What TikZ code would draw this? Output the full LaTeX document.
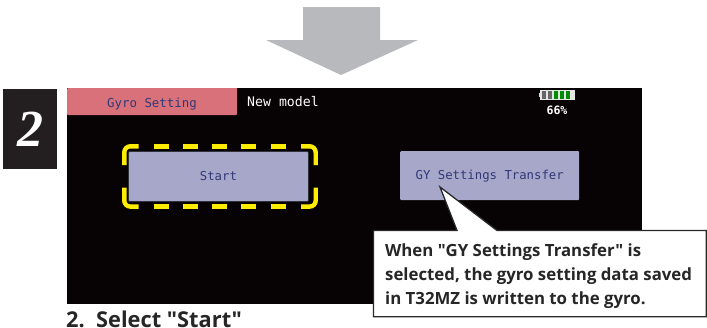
\documentclass[tikz,border=0pt]{standalone}
\usepackage{fontspec}
\newfontfamily\boldfam{Open Sans}
\newfontfamily\screenfont{DejaVu Sans Mono}
\newfontfamily\numfont{Liberation Serif}
\definecolor{arrowgrey}{RGB}{184,185,188}
\definecolor{tabpink}{RGB}{216,113,121}
\definecolor{btnblue}{RGB}{167,167,201}
\definecolor{inkblue}{RGB}{48,56,120}
\definecolor{scrblack}{RGB}{7,2,3}
\definecolor{numblack}{RGB}{35,31,32}
\definecolor{dashyellow}{RGB}{255,237,0}
\definecolor{capline}{RGB}{40,40,40}
\tikzset{
  screenbtn/.style={fill=btnblue,rounded corners=1pt,inner sep=0pt,text=inkblue,font=\screenfont\fontsize{12.3}{14}\selectfont},
  screentxt/.style={inner sep=0pt,font=\screenfont\fontsize{13.2}{14}\selectfont},
  yellowdash/.style={draw=dashyellow,line width=4.4pt},
  boldtxt/.style={inner sep=0pt,anchor=base west,text=black!85,font=\boldfam\bfseries\fontsize{16.8}{21}\selectfont},
  batcell/.style={inner sep=0pt,minimum width=4.6pt,minimum height=8pt}
}
\begin{document}
\begin{tikzpicture}[x=1pt,y=-1pt]
\useasboundingbox (0,0) rectangle (707,327);
\clip (0,0) rectangle (707,327);
% big arrow
\fill[arrowgrey] (303,7) -- (380,7) -- (380,40) -- (418,40) -- (341,75) -- (266,40) -- (303,40) -- cycle;
% step number
\node[fill=numblack,minimum width=54pt,minimum height=80pt,inner sep=0pt,anchor=north west] (num) at (3,89) {};
\node[text=white,inner sep=0pt,font=\numfont\bfseries\itshape\fontsize{52}{52}\selectfont] (numt) at (30,129) {2};
% screen
\fill[scrblack] (67,88) rectangle (642,304);
\fill[tabpink] (67,88) -- (237,88) -- (237,114) [rounded corners=1pt] -- (237,115) -- (67,115) -- cycle;
\node[screentxt,text=inkblue,font=\screenfont\fontsize{12.4}{14}\selectfont] (tab) at (152,104) {Gyro Setting};
\node[screentxt,text=white] (model) at (283,102) {New model};
% battery
\fill[white!85!black] (538.5,93) rectangle (540,97);
\fill[white!90!black] (540,90) rectangle (574.5,99.5);
\node[batcell,fill=black!60] (c1) at (544,94.8) {};
\node[batcell,fill=black!60] (c2) at (550,94.8) {};
\node[batcell,fill=green!55!black] (c3) at (556,94.8) {};
\node[batcell,fill=green!55!black] (c4) at (562,94.8) {};
\node[batcell,fill=green!55!black] (c5) at (568,94.8) {};
\node[screentxt,text=white,font=\screenfont\bfseries\fontsize{11.5}{12}\selectfont] (pct) at (557,110) {66\%};
% start button with dashed frame
\node[screenbtn,draw=black!70!btnblue,line width=.9pt,minimum width=180pt,minimum height=50pt,anchor=north west] (start) at (128,151) {Start};
\draw[yellowdash,rounded corners=6pt] (124.3,165) -- (124.3,146.3) -- (138.5,146.3);
\draw[yellowdash,rounded corners=6pt] (301,146.3) -- (315.7,146.3) -- (315.7,165);
\draw[yellowdash,rounded corners=6pt] (124.3,187.5) -- (124.3,206.6) -- (138.5,206.6);
\draw[yellowdash,rounded corners=6pt] (301,206.6) -- (315.7,206.6) -- (315.7,187.5);
\foreach \i in {0,...,4}{
  \draw[yellowdash] ({153.5+\i*29.3},146.3) -- ({168.5+\i*29.3},146.3);
  \draw[yellowdash] ({153.5+\i*29.3},206.6) -- ({168.5+\i*29.3},206.6);
}
% GY button
\node[screenbtn,minimum width=179pt,minimum height=49pt,anchor=north west] (gy) at (400,151) {GY Settings Transfer};
% callout
\draw[capline,line width=1.3pt,fill=white,line join=miter] (373.5,230.5) -- (457,230.5) -- (440,187) -- (497,230.5) -- (706.3,230.5) -- (706.3,316.8) -- (373.5,316.8) -- cycle;
\node[boldtxt] (c1t) at (385,256.7) {When "GY Settings Transfer" is};
\node[boldtxt] (c2t) at (385,280.3) {selected, the gyro setting data saved};
\node[boldtxt] (c3t) at (385,304) {in T32MZ is written to the gyro.};
% heading
\node[boldtxt,font=\boldfam\bfseries\fontsize{21.8}{24}\selectfont] (head) at (66,327.3) {2.\ \ Select "Start"};
\end{tikzpicture}
\end{document}
